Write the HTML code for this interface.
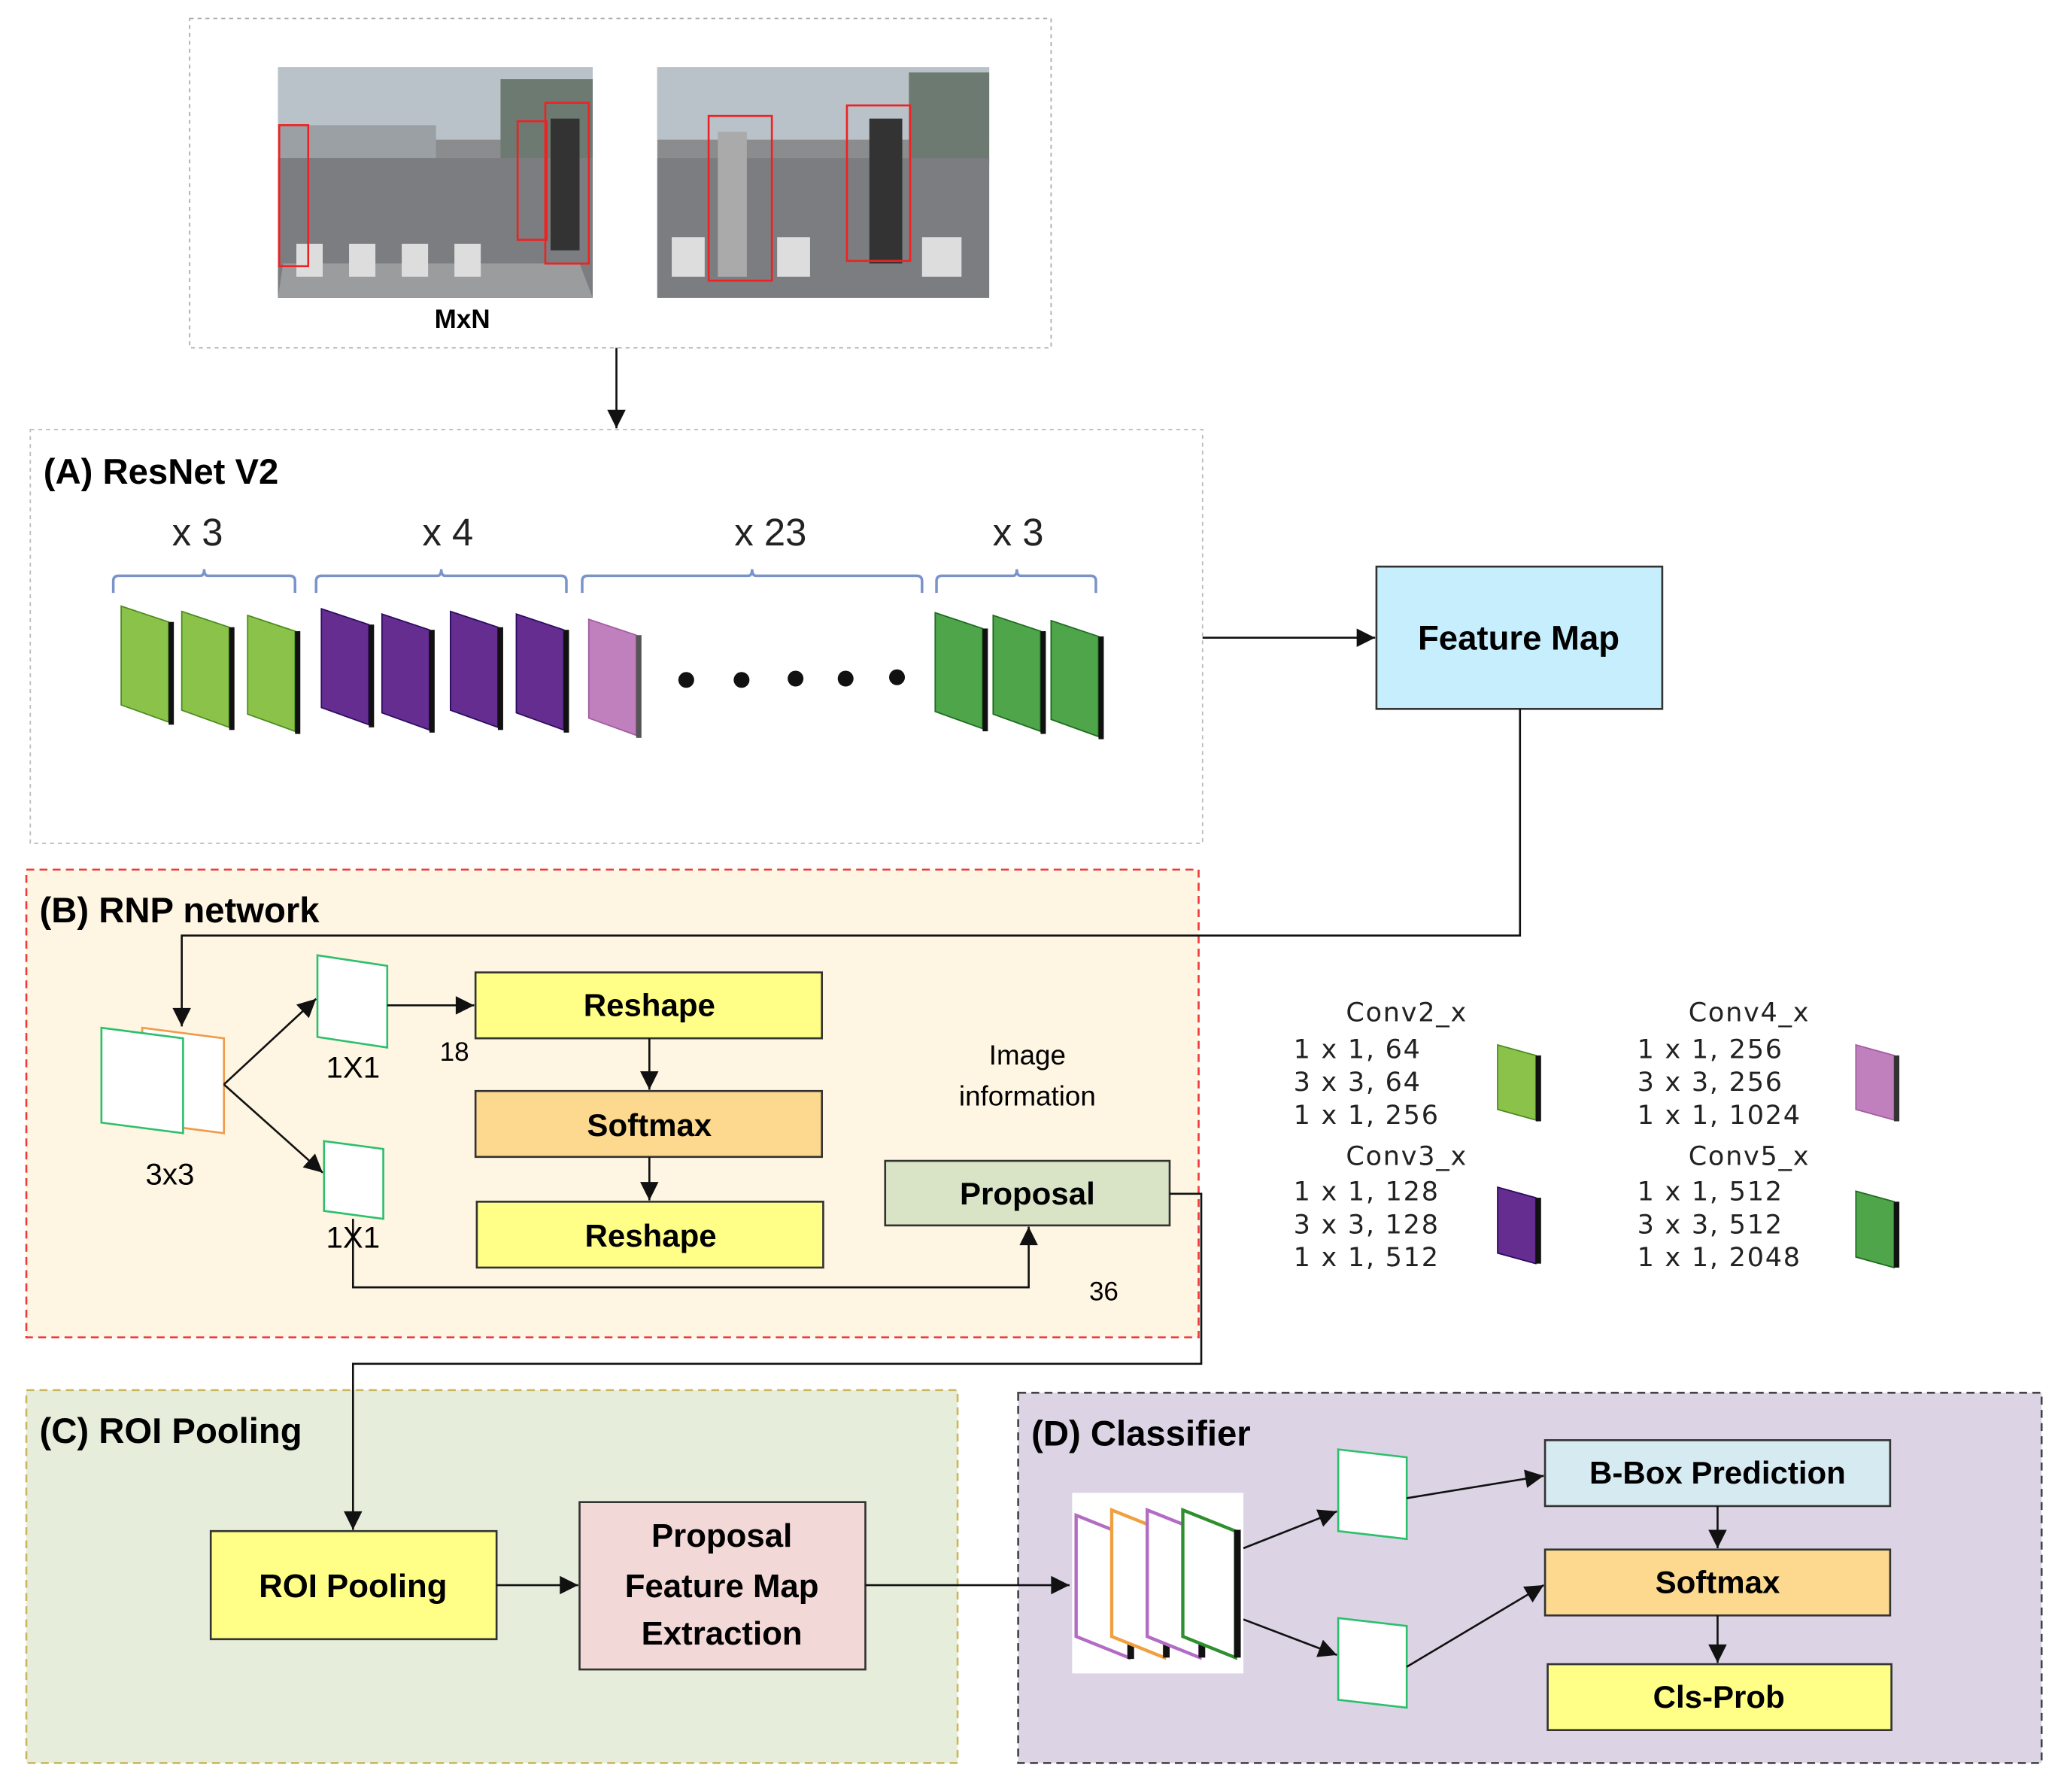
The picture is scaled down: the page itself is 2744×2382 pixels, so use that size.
<!DOCTYPE html>
<html><head><meta charset="utf-8"><style>
html,body{margin:0;padding:0;background:#fff}
svg{display:block}
text{font-family:"Liberation Sans","DejaVu Sans",sans-serif}
.b{font-weight:bold}
.lg text{font-family:"DejaVu Sans",sans-serif;letter-spacing:1px}
</style></head><body>
<svg width="2744" height="2382" viewBox="0 0 1567 1360" preserveAspectRatio="none" xmlns="http://www.w3.org/2000/svg">
<defs>
<marker id="arL" viewBox="0 0 10 10" refX="10" refY="5" markerWidth="16" markerHeight="14" orient="auto" markerUnits="userSpaceOnUse"><path d="M0,0 L10,5 L0,10 z" fill="#111"/></marker>
</defs>
<rect x="144" y="14" width="654" height="250" fill="#fff" stroke="#aaa" stroke-dasharray="3,3"/>
<g>
<rect x="211" y="51" width="239" height="175" fill="#8a8c8e"/>
<rect x="211" y="51" width="239" height="55" fill="#b9c2c9"/>
<rect x="211" y="95" width="120" height="25" fill="#9aa0a4"/>
<rect x="380" y="60" width="70" height="60" fill="#6d7a72"/>
<rect x="211" y="120" width="239" height="106" fill="#7b7d80"/>
<path d="M215,200 L440,200 L450,226 L211,226Z" fill="#9a9c9d"/>
<g fill="#ddd"><rect x="225" y="185" width="20" height="25"/><rect x="265" y="185" width="20" height="25"/><rect x="305" y="185" width="20" height="25"/><rect x="345" y="185" width="20" height="25"/></g>
<rect x="212" y="95" width="22" height="107" fill="none" stroke="#e22" stroke-width="1.5"/>
<rect x="393" y="92" width="22" height="90" fill="none" stroke="#e22" stroke-width="1.5"/>
<rect x="414" y="78" width="33" height="122" fill="none" stroke="#e22" stroke-width="1.5"/>
<rect x="418" y="90" width="22" height="100" fill="#333"/>
</g>
<g>
<rect x="499" y="51" width="252" height="175" fill="#8a8c8e"/>
<rect x="499" y="51" width="252" height="55" fill="#b9c2c9"/>
<rect x="690" y="55" width="61" height="70" fill="#6d7a72"/>
<rect x="499" y="120" width="252" height="106" fill="#7b7d80"/>
<g fill="#ddd"><rect x="510" y="180" width="25" height="30"/><rect x="590" y="180" width="25" height="30"/><rect x="700" y="180" width="30" height="30"/></g>
<rect x="545" y="100" width="22" height="110" fill="#aaa"/>
<rect x="660" y="90" width="25" height="110" fill="#333"/>
<rect x="538" y="88" width="48" height="125" fill="none" stroke="#e22" stroke-width="1.5"/>
<rect x="643" y="80" width="48" height="118" fill="none" stroke="#e22" stroke-width="1.5"/>
</g>
<text x="351" y="249" font-size="20" class="b" text-anchor="middle">MxN</text>
<line x1="468" y1="264" x2="468" y2="325" stroke="#111" stroke-width="1.5" marker-end="url(#arL)"/>

<rect x="23" y="326" width="890" height="314" fill="#fff" stroke="#bbb" stroke-dasharray="3,3"/>
<text x="33" y="367" font-size="27" class="b">(A) ResNet V2</text>
<g font-size="29" text-anchor="middle" fill="#222">
<text x="150" y="414">x 3</text><text x="340" y="414">x 4</text><text x="585" y="414">x 23</text><text x="773" y="414">x 3</text></g>
<g fill="none" stroke="#7a93c9" stroke-width="2">
<path d="M86,450 V441 Q86,437 90,437 H152 Q155,437 155,432 Q155,437 158,437 H220 Q224,437 224,441 V450"/>
<path d="M240,450 V441 Q240,437 244,437 H332 Q335,437 335,432 Q335,437 338,437 H426 Q430,437 430,441 V450"/>
<path d="M442,450 V441 Q442,437 446,437 H568 Q571,437 571,432 Q571,437 574,437 H696 Q700,437 700,441 V450"/>
<path d="M711,450 V441 Q711,437 715,437 H769 Q772,437 772,432 Q772,437 775,437 H828 Q832,437 832,441 V450"/>
</g>
<g>
<g fill="#8bc34a" stroke="#4a8a1e" stroke-width="1">
<path d="M92,460 L128,472 L128,548 L92,535Z"/><path d="M138,464 L174,476 L174,552 L138,539Z"/><path d="M188,467 L224,479 L224,555 L188,542Z"/></g>
<g fill="#652d90" stroke="#2a0a60" stroke-width="1">
<path d="M244,462 L280,474 L280,550 L244,537Z"/><path d="M290,466 L326,478 L326,554 L290,541Z"/><path d="M342,464 L378,476 L378,552 L342,539Z"/><path d="M392,466 L428,478 L428,554 L392,541Z"/></g>
<path d="M447,470 L483,482 L483,558 L447,545Z" fill="#c07fbd" stroke="#a05ca0"/>
<g fill="#4ea54a" stroke="#1e6a1e">
<path d="M710,465 L746,477 L746,553 L710,540Z"/><path d="M754,467 L790,479 L790,555 L754,542Z"/><path d="M798,471 L834,483 L834,559 L798,546Z"/></g>
<g fill="#111"><rect x="128" y="472" width="4" height="78"/><rect x="174" y="476" width="4" height="78"/><rect x="224" y="479" width="4" height="78"/><rect x="280" y="474" width="4" height="78"/><rect x="326" y="478" width="4" height="78"/><rect x="378" y="476" width="4" height="78"/><rect x="428" y="478" width="4" height="78"/><rect x="483" y="482" width="4" height="78" fill="#555"/><rect x="746" y="477" width="4" height="78"/><rect x="790" y="479" width="4" height="78"/><rect x="834" y="483" width="4" height="78"/></g>
</g>
<g fill="#111"><circle cx="521" cy="516" r="6"/><circle cx="563" cy="516" r="6"/><circle cx="604" cy="515" r="6"/><circle cx="642" cy="515" r="6"/><circle cx="681" cy="514" r="6"/></g>
<line x1="913" y1="484" x2="1044" y2="484" stroke="#111" stroke-width="1.5" marker-end="url(#arL)"/>
<rect x="1045" y="430" width="217" height="108" fill="#c6eefc" stroke="#333" stroke-width="1.5"/>
<text x="1153" y="493" font-size="26" class="b" text-anchor="middle">Feature Map</text>

<rect x="20" y="660" width="890" height="355" fill="#fef6e3" stroke="#f03a3a" stroke-width="1.5" stroke-dasharray="6,4"/>
<text x="30" y="700" font-size="27" class="b">(B) RNP network</text>
<polyline points="1154,538 1154,710 138,710 138,779" fill="none" stroke="#111" stroke-width="1.5" marker-end="url(#arL)"/>
<path d="M108,780 L170,788 L170,860 L108,852Z" fill="#fff" stroke="#f09a4a" stroke-width="1.5"/>
<path d="M77,780 L139,788 L139,860 L77,852Z" fill="#fff" stroke="#2cbf6c" stroke-width="1.5"/>
<text x="129" y="899" font-size="23" text-anchor="middle">3x3</text>
<line x1="170" y1="823" x2="240" y2="758" stroke="#111" stroke-width="1.5" marker-end="url(#arL)"/>
<line x1="170" y1="823" x2="245" y2="890" stroke="#111" stroke-width="1.5" marker-end="url(#arL)"/>
<path d="M241,725 L294,733 L294,795 L241,787Z" fill="#fff" stroke="#2cbf6c" stroke-width="1.5"/>
<path d="M246,866 L291,872 L291,925 L246,919Z" fill="#fff" stroke="#2cbf6c" stroke-width="1.5"/>
<text x="268" y="818" font-size="23" text-anchor="middle">1X1</text>
<line x1="294" y1="763" x2="360" y2="763" stroke="#111" stroke-width="1.5" marker-end="url(#arL)"/>
<text x="345" y="805" font-size="20" text-anchor="middle">18</text>
<rect x="361" y="738" width="263" height="50" fill="#ffff88" stroke="#333" stroke-width="1.5"/>
<text x="493" y="771" font-size="24" class="b" text-anchor="middle">Reshape</text>
<line x1="493" y1="788" x2="493" y2="827" stroke="#111" stroke-width="1.5" marker-end="url(#arL)"/>
<rect x="361" y="828" width="263" height="50" fill="#fcd98f" stroke="#333" stroke-width="1.5"/>
<text x="493" y="862" font-size="24" class="b" text-anchor="middle">Softmax</text>
<line x1="493" y1="878" x2="493" y2="911" stroke="#111" stroke-width="1.5" marker-end="url(#arL)"/>
<rect x="362" y="912" width="263" height="50" fill="#ffff88" stroke="#333" stroke-width="1.5"/>
<text x="494" y="946" font-size="24" class="b" text-anchor="middle">Reshape</text>
<polyline points="268,925 268,977 781,977 781,931" fill="none" stroke="#111" stroke-width="1.5" marker-end="url(#arL)"/>
<text x="268" y="947" font-size="23" text-anchor="middle">1X1</text>
<text x="838" y="987" font-size="20" text-anchor="middle">36</text>
<text x="780" y="808" font-size="21" text-anchor="middle">Image</text>
<text x="780" y="839" font-size="21" text-anchor="middle">information</text>
<rect x="672" y="881" width="216" height="49" fill="#d8e4c5" stroke="#333" stroke-width="1.5"/>
<text x="780" y="914" font-size="24" class="b" text-anchor="middle">Proposal</text>

<g class="lg" font-size="20" fill="#222">
<text x="1068" y="775" text-anchor="middle">Conv2_x</text>
<text x="982" y="803">1 x 1, 64</text><text x="982" y="828">3 x 3, 64</text><text x="982" y="853">1 x 1, 256</text>
<text x="1068" y="884" text-anchor="middle">Conv3_x</text>
<text x="982" y="911">1 x 1, 128</text><text x="982" y="936">3 x 3, 128</text><text x="982" y="961">1 x 1, 512</text>
<text x="1328" y="775" text-anchor="middle">Conv4_x</text>
<text x="1243" y="803">1 x 1, 256</text><text x="1243" y="828">3 x 3, 256</text><text x="1243" y="853">1 x 1, 1024</text>
<text x="1328" y="884" text-anchor="middle">Conv5_x</text>
<text x="1243" y="911">1 x 1, 512</text><text x="1243" y="936">3 x 3, 512</text><text x="1243" y="961">1 x 1, 2048</text>
</g>
<path d="M1137,793 L1166,801 L1166,850 L1137,842Z" fill="#8bc34a" stroke="#4a8a1e"/><rect x="1166" y="801" width="4" height="50" fill="#111"/>
<path d="M1137,901 L1166,909 L1166,959 L1137,951Z" fill="#652d90" stroke="#2a0a60"/><rect x="1166" y="909" width="4" height="50" fill="#111"/>
<path d="M1409,793 L1438,801 L1438,850 L1409,842Z" fill="#c07fbd" stroke="#a05ca0"/><rect x="1438" y="801" width="4" height="50" fill="#333"/>
<path d="M1409,904 L1438,912 L1438,962 L1409,954Z" fill="#4ea54a" stroke="#1e6a1e"/><rect x="1438" y="912" width="4" height="50" fill="#111"/>

<rect x="20" y="1055" width="707" height="283" fill="#e6eedb" stroke="#cbb65e" stroke-width="1.5" stroke-dasharray="6,4"/>
<text x="30" y="1095" font-size="27" class="b">(C) ROI Pooling</text>
<polyline points="888,906 912,906 912,1035 268,1035 268,1161" fill="none" stroke="#111" stroke-width="1.5" marker-end="url(#arL)"/>
<rect x="160" y="1162" width="217" height="82" fill="#ffff88" stroke="#333" stroke-width="1.5"/>
<text x="268" y="1212" font-size="25" class="b" text-anchor="middle">ROI Pooling</text>
<line x1="377" y1="1203" x2="439" y2="1203" stroke="#111" stroke-width="1.5" marker-end="url(#arL)"/>
<rect x="440" y="1140" width="217" height="127" fill="#f2d8d6" stroke="#333" stroke-width="1.5"/>
<g font-size="25" class="b" text-anchor="middle"><text x="548" y="1174">Proposal</text><text x="548" y="1212">Feature Map</text><text x="548" y="1248">Extraction</text></g>

<rect x="773" y="1057" width="777" height="281" fill="#dcd4e5" stroke="#444" stroke-width="1.5" stroke-dasharray="6,4"/>
<text x="783" y="1097" font-size="27" class="b">(D) Classifier</text>
<line x1="657" y1="1203" x2="812" y2="1203" stroke="#111" stroke-width="1.5" marker-end="url(#arL)"/>
<rect x="814" y="1133" width="130" height="137" fill="#fff"/>
<g stroke-width="2.5" fill="#fff">
<path d="M817,1150 L857,1166 L857,1258 L817,1242Z" stroke="#b36cc4"/><rect x="856" y="1165" width="5" height="94" fill="#111" stroke="none"/>
<path d="M844,1146 L884,1162 L884,1258 L844,1242Z" stroke="#f0a040"/><rect x="883" y="1161" width="5" height="97" fill="#111" stroke="none"/>
<path d="M871,1146 L911,1162 L911,1258 L871,1242Z" stroke="#b36cc4"/><rect x="910" y="1161" width="5" height="97" fill="#111" stroke="none"/>
<path d="M898,1146 L938,1162 L938,1258 L898,1242Z" stroke="#2f8f2f"/><rect x="937" y="1161" width="5" height="97" fill="#111" stroke="none"/>
</g>
<line x1="944" y1="1175" x2="1015" y2="1147" stroke="#111" stroke-width="1.5" marker-end="url(#arL)"/>
<line x1="944" y1="1229" x2="1015" y2="1256" stroke="#111" stroke-width="1.5" marker-end="url(#arL)"/>
<path d="M1016,1100 L1068,1106 L1068,1168 L1016,1162Z" fill="#fff" stroke="#2cbf6c" stroke-width="1.5"/>
<path d="M1016,1228 L1068,1234 L1068,1296 L1016,1290Z" fill="#fff" stroke="#2cbf6c" stroke-width="1.5"/>
<line x1="1068" y1="1137" x2="1172" y2="1120" stroke="#111" stroke-width="1.5" marker-end="url(#arL)"/>
<line x1="1068" y1="1265" x2="1172" y2="1203" stroke="#111" stroke-width="1.5" marker-end="url(#arL)"/>
<rect x="1173" y="1093" width="262" height="50" fill="#d6eaf2" stroke="#333" stroke-width="1.5"/>
<text x="1304" y="1126" font-size="24" class="b" text-anchor="middle">B-Box Prediction</text>
<line x1="1304" y1="1143" x2="1304" y2="1175" stroke="#111" stroke-width="1.5" marker-end="url(#arL)"/>
<rect x="1173" y="1176" width="262" height="50" fill="#fcd98f" stroke="#333" stroke-width="1.5"/>
<text x="1304" y="1209" font-size="24" class="b" text-anchor="middle">Softmax</text>
<line x1="1304" y1="1226" x2="1304" y2="1262" stroke="#111" stroke-width="1.5" marker-end="url(#arL)"/>
<rect x="1175" y="1263" width="261" height="50" fill="#ffff88" stroke="#333" stroke-width="1.5"/>
<text x="1305" y="1296" font-size="24" class="b" text-anchor="middle">Cls-Prob</text>
</svg>
</body></html>
